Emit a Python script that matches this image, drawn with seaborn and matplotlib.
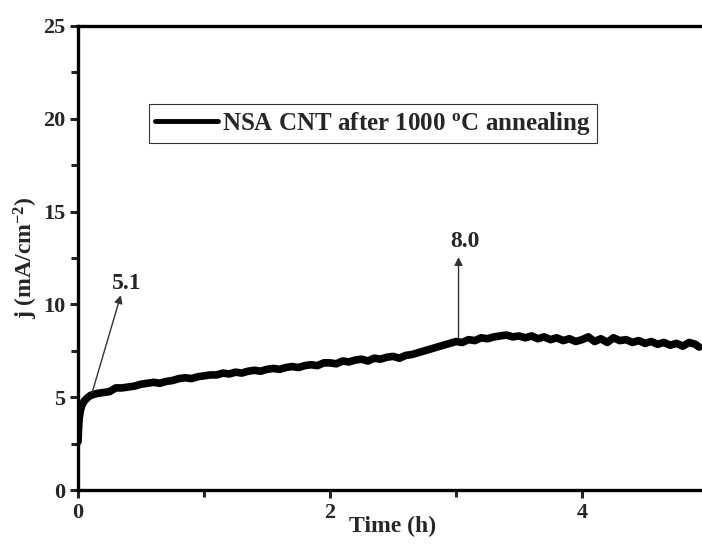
import numpy as np
import pandas as pd
import matplotlib
matplotlib.use("Agg")
import matplotlib.pyplot as plt
import seaborn as sns

time_h = [0, 0.005, 0.01, 0.02, 0.03, 0.05, 0.08, 0.1, 0.15, 0.2, 0.25, 0.3, 0.35, 0.4, 0.45,
          0.5, 0.55, 0.6, 0.65, 0.7, 0.75, 0.8, 0.85, 0.9, 0.95, 1.0, 1.05, 1.1, 1.15, 1.2,
          1.25, 1.3, 1.35, 1.4, 1.45, 1.5, 1.55, 1.6, 1.65, 1.7, 1.75, 1.8, 1.85, 1.9, 1.95,
          2.0, 2.05, 2.1, 2.15, 2.2, 2.25, 2.3, 2.35, 2.4, 2.45, 2.5, 2.55, 2.6, 2.65, 2.7,
          2.75, 2.8, 2.85, 2.9, 2.95, 3.0, 3.05, 3.1, 3.15, 3.2, 3.25, 3.3, 3.35, 3.4, 3.45,
          3.5, 3.55, 3.6, 3.65, 3.7, 3.75, 3.8, 3.85, 3.9, 3.95, 4.0, 4.05, 4.1, 4.15, 4.2,
          4.25, 4.3, 4.35, 4.4, 4.45, 4.5, 4.55, 4.6, 4.65, 4.7, 4.75, 4.8, 4.85, 4.9, 4.93]
current_j = [2.6, 3.4, 3.9, 4.3, 4.55, 4.8, 5.0, 5.1, 5.2, 5.25, 5.3, 5.5, 5.5, 5.55, 5.6,
             5.7, 5.75, 5.8, 5.75, 5.85, 5.9, 6.0, 6.05, 6.0, 6.1, 6.15, 6.2, 6.2, 6.3, 6.25,
             6.35, 6.3, 6.4, 6.45, 6.4, 6.5, 6.55, 6.5, 6.6, 6.65, 6.6, 6.7, 6.75, 6.7, 6.85,
             6.85, 6.8, 6.95, 6.9, 7.0, 7.05, 6.95, 7.1, 7.05, 7.15, 7.2, 7.1, 7.25, 7.3, 7.4,
             7.5, 7.6, 7.7, 7.8, 7.9, 8.0, 7.95, 8.1, 8.05, 8.2, 8.15, 8.25, 8.3, 8.35, 8.25,
             8.3, 8.2, 8.3, 8.15, 8.25, 8.1, 8.2, 8.05, 8.15, 8.0, 8.1, 8.25, 8.0, 8.15, 7.95,
             8.2, 8.05, 8.1, 7.95, 8.05, 7.9, 8.0, 7.85, 7.95, 7.8, 7.9, 7.75, 7.95, 7.85, 7.7]
series_label = "NSA CNT after 1000 $^{o}$C annealing"
annot_labels = ["5.1", "8.0"]
annot_base = [(0.11, 5.2), (3.02, 8.2)]
annot_tip = [(0.34, 10.5), (3.02, 12.55)]
annot_text_pos = [(0.39, 11.1), (3.07, 13.4)]

sns.set_style("ticks")
plt.rcParams["font.family"] = ["Liberation Serif", "DejaVu Serif"]
plt.rcParams["font.weight"] = "bold"
plt.rcParams["mathtext.default"] = "regular"

fig = plt.figure(figsize=(7.02, 5.45), dpi=100)
ax = fig.add_axes([78 / 702, 55 / 545, 630 / 702, 464 / 545])

df = pd.DataFrame({"t": time_h, "j": current_j})
sns.lineplot(data=df, x="t", y="j", ax=ax, color="black", linewidth=5.5,
             label=series_label, sort=False)

ax.set_xlim(0, 5)
ax.set_ylim(0, 25)
ax.set_xticks([0, 2, 4])
ax.set_xticks([1, 3, 5], minor=True)
ax.set_yticks([0, 5, 10, 15, 20, 25])
ax.set_yticks([2.5, 7.5, 12.5, 17.5, 22.5], minor=True)
ax.tick_params(axis="both", which="major", direction="out", length=6, width=2.2,
               labelsize=16, pad=3)
ax.tick_params(axis="both", which="minor", direction="out", length=5, width=2.2)
for lab in ax.get_xticklabels() + ax.get_yticklabels():
    lab.set_fontweight("bold")
for s in ax.spines.values():
    s.set_linewidth(2.4)
    s.set_color("black")

ax.set_xlabel("Time (h)", fontsize=17, fontweight="bold", labelpad=-5)
ax.set_ylabel("j (mA/cm$^{-2}$)", fontsize=17, fontweight="bold", labelpad=2)

for lbl, b, tip, tp in zip(annot_labels, annot_base, annot_tip, annot_text_pos):
    ax.annotate("", xy=tip, xytext=b,
                arrowprops=dict(arrowstyle="-|>", color="#333333", lw=1.0,
                                mutation_scale=12, shrinkA=0, shrinkB=0))
    ax.text(tp[0], tp[1], lbl, fontsize=17, fontweight="bold", ha="center", va="center")

leg = ax.legend(loc="upper left", bbox_to_anchor=(0.113, 0.832), borderaxespad=0,
                frameon=True, fancybox=False, fontsize=18, handlelength=2.5,
                handletextpad=0.15, borderpad=0.25)
leg.get_frame().set_edgecolor("black")
leg.get_frame().set_linewidth(0.8)
for t in leg.get_texts():
    t.set_fontweight("bold")
for l in leg.get_lines():
    l.set_linewidth(3.5)

fig.savefig("out.png", dpi=100)
